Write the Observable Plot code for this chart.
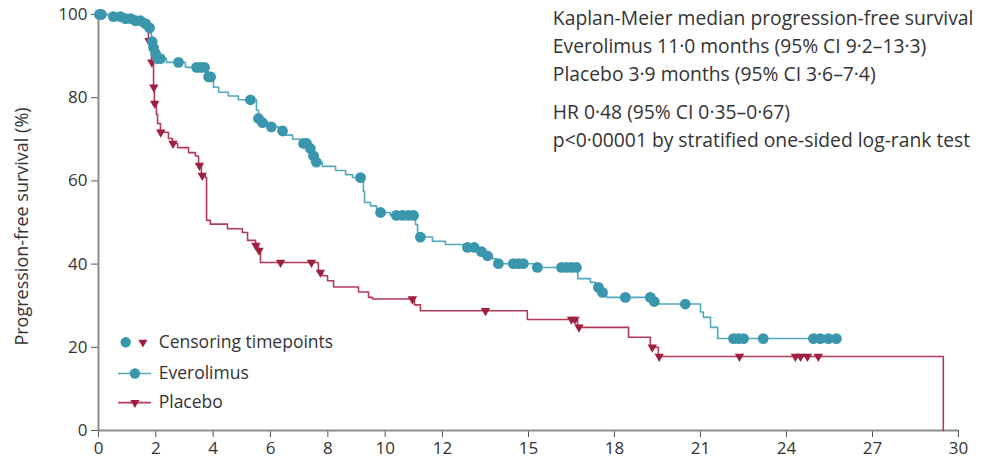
<!DOCTYPE html>
<html><head><meta charset="utf-8">
<script src="https://cdn.jsdelivr.net/npm/d3@7"></script>
<script src="https://cdn.jsdelivr.net/npm/@observablehq/plot@0.6"></script>
<style>body{margin:0;background:#fff}</style>
</head><body><div id="chart"></div>
<script>
// Everolimus KM steps (months, %)
const evTime = [0,0.42,0.84,1.29,1.57,1.74,1.81,1.85,1.88,1.95,2.06,2.37,3.03,3.73,3.84,3.94,4.01,4.19,4.53,4.88,5.51,5.58,5.72,5.93,6.28,6.52,6.77,7.05,7.32,7.43,7.53,7.81,8.27,8.62,8.86,9.24,9.28,9.49,9.70,9.80,10.18,11.06,11.13,11.23,11.65,12.1,12.8,13.25,13.5,13.74,13.88,15.2,16.72,17.16,17.34,17.5,17.72,19.32,19.46,21.0,21.1,21.35,21.6,25.9];
const evSurv = [100,99.5,99.0,98.5,97.8,96.8,95.4,93.5,92.0,90.6,89.4,88.5,87.3,86.2,85.0,84.0,82.5,81.3,80.4,79.5,77.0,75.0,74.0,73.0,72.0,71.0,70.0,69.0,67.8,66.0,64.5,63.5,62.5,61.5,60.8,57.5,54.8,54.0,53.2,52.4,51.7,49.5,47.5,46.5,45.5,44.7,44.0,43.0,42.0,41.3,40.1,39.2,36.5,35.6,34.4,33.2,32.0,31.0,30.4,28.5,27.2,24.8,22.1,22.1];
const evCensor = [0.03,0.1,0.52,0.77,0.94,1.12,1.29,1.46,1.64,1.78,1.87,1.92,1.99,2.06,2.16,2.79,3.42,3.56,3.70,3.84,3.91,5.3,5.58,5.72,6.03,6.42,7.15,7.26,7.39,7.5,7.6,9.14,9.84,10.39,10.6,10.81,10.99,11.23,12.87,13.11,13.36,13.57,13.95,14.47,14.65,14.82,15.31,16.15,16.32,16.5,16.67,17.44,17.58,18.38,19.25,19.39,20.47,22.15,22.32,22.5,23.19,24.94,25.18,25.46,25.74];

// Placebo KM steps
const plTime = [0,0.42,0.84,1.29,1.57,1.67,1.74,1.85,1.92,1.95,2.02,2.06,2.16,2.44,2.58,2.76,3.14,3.38,3.49,3.59,3.73,3.77,3.9,4.5,5.02,5.2,5.48,5.58,5.65,7.67,7.81,7.99,8.2,9.07,9.42,9.56,11.02,11.23,14.96,16.71,18.49,19.25,19.53,29.47];
const plSurv = [100,99.5,99.0,98.5,97.8,96.5,93.7,88.5,82.5,78.6,76.0,73.8,71.7,70.2,69.0,68.0,66.8,66.0,63.7,61.3,60.8,50.5,49.6,48.5,47.6,45.7,44.5,43.3,40.4,38.0,37.2,36.0,34.5,33.3,32.0,31.6,30.2,28.8,26.7,24.8,22.4,20.0,17.8,0];
const plCensor = [1.76,1.86,1.93,1.96,2.17,2.6,3.52,3.62,5.49,5.6,6.35,7.43,7.74,10.95,13.5,16.5,16.62,16.76,19.32,19.56,22.36,24.31,24.49,24.73,25.11];

const xTicks = [0,2,4,6,8,10,12,15,18,21,24,27,30];
const yTicks = [0,20,40,60,80,100];
const yLabel = "Progression-free survival (%)";
const annotation = [
  "Kaplan-Meier median progression-free survival",
  "Everolimus 11·0 months (95% CI 9·2–13·3)",
  "Placebo 3·9 months (95% CI 3·6–7·4)",
  "HR 0·48 (95% CI 0·35–0·67)",
  "p<0·00001 by stratified one-sided log-rank test"
];
const annotY = [99.0, 92.3, 85.6, 76.4, 69.7];
const legendLabels = ["Censoring timepoints", "Everolimus", "Placebo"];

const teal = "#3a96ad", tealLine = "#52a8bc";
const red = "#a01f40", redLine = "#b23a58";

function survAt(times, surv, t) {
  let s = surv[0];
  for (let i = 0; i < times.length; i++) { if (times[i] <= t) s = surv[i]; else break; }
  return s;
}
const ev = evTime.map((t, i) => ({t, s: evSurv[i]}));
const pl = plTime.map((t, i) => ({t, s: plSurv[i]}));
const evC = evCensor.map(t => ({t, s: survAt(evTime, evSurv, t)}));
const plC = plCensor.map(t => ({t, s: survAt(plTime, plSurv, t)}));
const ann = annotation.map((text, i) => ({text, y: annotY[i]}));

// legend rows (data coordinates inside the frame)
const legY = [21.2, 13.7, 6.7];
const legTextX = 2.1;

const chart = Plot.plot({
  width: 988, height: 469,
  marginLeft: 98, marginRight: 30, marginTop: 14, marginBottom: 39,
  style: {fontFamily: "'Open Sans', sans-serif", fontSize: "17px", color: "#333", background: "#fff"},
  x: {domain: [0, 30]},
  y: {domain: [0, 100]},
  marks: [
    Plot.axisX({ticks: xTicks, tickSize: 7, tickPadding: 4, fontSize: 17, stroke: "#555", label: null}),
    Plot.axisY({ticks: yTicks, tickSize: 7, tickPadding: 4, fontSize: 17, stroke: "#555", label: null}),
    Plot.text([yLabel], {frameAnchor: "left", textAnchor: "middle", dx: -76, dy: 4, rotate: -90, text: d => d, fontSize: 18, fill: "#333"}),
    Plot.ruleX([0], {stroke: "#8c8c8c", strokeWidth: 2}),
    Plot.ruleY([0], {stroke: "#8c8c8c", strokeWidth: 2}),
    Plot.line(pl, {x: "t", y: "s", curve: "step-after", stroke: redLine, strokeWidth: 1.6}),
    Plot.line(ev, {x: "t", y: "s", curve: "step-after", stroke: tealLine, strokeWidth: 1.6}),
    Plot.dot(plC, {x: "t", y: "s", symbol: "triangle", r: 3.5, rotate: 180, fill: red, stroke: "none"}),
    Plot.dot(evC, {x: "t", y: "s", r: 5.4, fill: teal, stroke: "none"}),
    // annotation
    Plot.text(ann, {x: () => 15.85, y: "y", text: "text", textAnchor: "start", fontSize: 19.3, fill: "#333"}),
    // legend
    Plot.dot([legendLabels[0]], {x: () => 0.95, y: () => legY[0], r: 5.2, fill: teal}),
    Plot.dot([legendLabels[0]], {x: () => 1.55, y: () => legY[0], symbol: "triangle", r: 3.4, rotate: 180, fill: red}),
    Plot.ruleY([legendLabels[1]], {y: () => legY[1], x1: () => 0.7, x2: () => 1.85, stroke: tealLine, strokeWidth: 1.6}),
    Plot.dot([legendLabels[1]], {x: () => 1.27, y: () => legY[1], r: 5.2, fill: teal}),
    Plot.ruleY([legendLabels[2]], {y: () => legY[2], x1: () => 0.7, x2: () => 1.85, stroke: redLine, strokeWidth: 1.6}),
    Plot.dot([legendLabels[2]], {x: () => 1.27, y: () => legY[2], symbol: "triangle", r: 3.4, rotate: 180, fill: red}),
    Plot.text(legendLabels, {x: () => legTextX, y: (d, i) => legY[i], text: d => d, textAnchor: "start", fontSize: 17.5, fill: "#333"})
  ]
});
document.getElementById("chart").append(chart);
</script></body></html>
